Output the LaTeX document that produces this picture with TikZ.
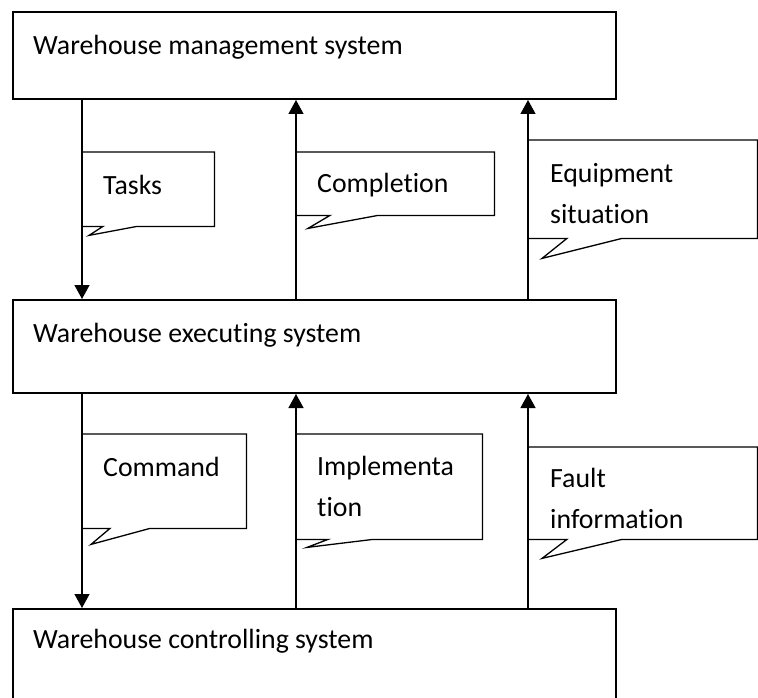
\documentclass[tikz,border=0pt]{standalone}
\usepackage{fontspec}
\setmainfont{Carlito}[Ligatures=NoCommon]
\usepackage{tikz}
\usetikzlibrary{arrows.meta,calc,positioning}

\begin{document}
\begin{tikzpicture}
    [x=1pt,y=-1pt,font=\fontsize{27.8}{41}\selectfont,
     sysbox/.style={draw,line width=2pt,inner sep=0pt,anchor=north west,
       minimum width=603pt},
     callout/.style={inner sep=0pt,anchor=north west},
     label/.style={inner sep=0pt,anchor=base west,align=left},
     flow/.style={line width=1.3pt,-{Triangle[length=14pt,width=15pt]}},
     bubble/.style={line width=1.3pt,line join=miter}]
    \useasboundingbox (0,0) rectangle (758,698);
    % systems
    \node[sysbox,minimum height=87pt]  (wms) at (12,11)  {};
    \node[sysbox,minimum height=93pt]  (wes) at (12,299) {};
    \node[sysbox,minimum height=100pt] (wcs) at (12,608) {};
    \node[label] (wmstext) at ($(wms.north west)+(21,44)$) {Warehouse management system};
    \node[label] (westext) at ($(wes.north west)+(21,43)$) {Warehouse executing system};
    \node[label] (wcstext) at ($(wcs.north west)+(21,40)$) {Warehouse controlling system};
    % callouts
    \node[callout,minimum width=132pt,minimum height=74pt] (tasks) at (82,152)  {};
    \node[callout,minimum width=198pt,minimum height=63pt] (compl) at (296,152) {};
    \node[callout,minimum width=229pt,minimum height=98pt] (equip) at (528,140) {};
    \node[callout,minimum width=164pt,minimum height=94pt] (cmd)   at (82,434)  {};
    \node[callout,minimum width=186pt,minimum height=105pt] (impl) at (296,434) {};
    \node[callout,minimum width=229pt,minimum height=92pt] (fault) at (528,447) {};
    \foreach \c/\a/\tx/\ty/\b in {tasks/21/7/9/55,compl/34/12/13/82,equip/39/14/20/94,
        cmd/28/9/16/68,impl/32/11/8/77,fault/39/14/19/94}
      \draw[bubble] ($(\c.south west)+(\a,0)$) -- ($(\c.south west)+(\tx,\ty)$)
        -- ($(\c.south west)+(\b,0)$) -| (\c.north east) -| (\c.south west) -- cycle;
    % two-line labels sit on the baseline of their last line
    \node[label] (taskstext) at ($(tasks.north west)+(21,42)$) {Tasks};
    \node[label] (compltext) at ($(compl.north west)+(21,41)$) {Completion};
    \node[label] (equiptext) at ($(equip.north west)+(22,83)$) {Equipment\\situation};
    \node[label] (cmdtext)   at ($(cmd.north west)+(21,42)$)   {Command};
    \node[label] (impltext)  at ($(impl.north west)+(21,82)$)  {Implementa\\tion};
    \node[label] (faulttext) at ($(fault.north west)+(22,81)$) {Fault\\information};
    % flows
    \foreach \from/\to/\dx in {wms/wes/70,wes/wcs/70}
      \draw[flow] ($(\from.south west)+(\dx,0)$) -- ($(\to.north west)+(\dx,0)$);
    \foreach \from/\to/\dx in {wes/wms/284,wes/wms/516,wcs/wes/284,wcs/wes/516}
      \draw[flow] ($(\from.north west)+(\dx,0)$) -- ($(\to.south west)+(\dx,0)$);
\end{tikzpicture}
\end{document}
